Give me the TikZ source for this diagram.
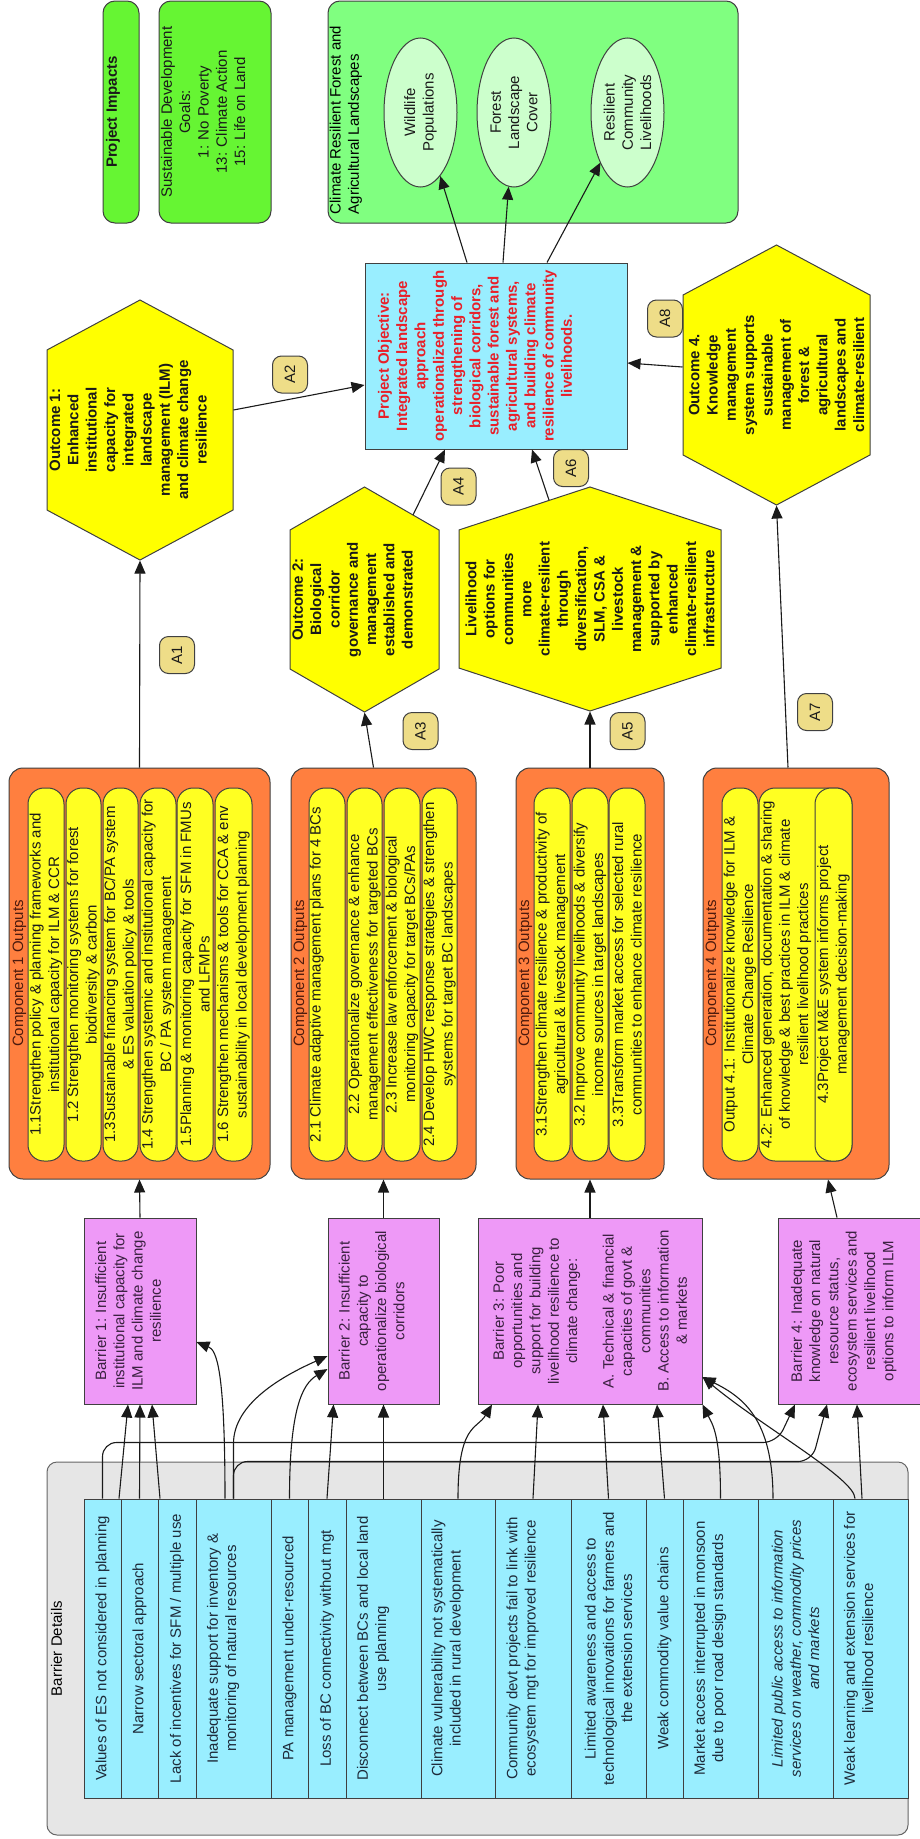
\documentclass[tikz,border=0pt]{standalone}
\usepackage{fontspec}
\setmainfont{Liberation Sans}
\usetikzlibrary{calc,shapes.geometric,shapes.symbols,arrows.meta}
\definecolor{impgreen}  {HTML}{66F533}
\definecolor{landgreen} {HTML}{80FF80}
\definecolor{ellgreen}  {HTML}{CCFFCC}
\definecolor{cyanfill}  {HTML}{99EEFF}
\definecolor{objred}    {HTML}{E8202A}
\definecolor{hexyellow} {HTML}{FFFF00}
\definecolor{comporange}{HTML}{FF7F3F}
\definecolor{itemyellow}{HTML}{FFFF22}
\definecolor{barpink}   {HTML}{EE99F7}
\definecolor{panelgrey} {HTML}{E6E6E6}
\definecolor{tagkhaki}  {HTML}{EEDD88}
\definecolor{ink}       {HTML}{1A1A1A}
\definecolor{rim}       {HTML}{404040}
\definecolor{barink}    {HTML}{3A2040}
\definecolor{detink}    {HTML}{1E2B3A}
\definecolor{compink}   {HTML}{4D1A0D}
\newcommand{\fsz}{\fontsize{15}{18.3}\selectfont}
\tikzset{
  >={Triangle[length=13pt,width=11pt]},
  every node/.style={font=\fsz},
  % --- nodes (all turned a quarter, text reads upwards)
  sz/.style 2 args={minimum height=#1, minimum width=#2},
  rbox/.style   = {rotate=90, draw=rim, line width=1pt, align=center, inner sep=0pt, text=ink},
  impact/.style = {rbox, fill=impgreen, rounded corners=12pt},
  land/.style   = {rbox, fill=landgreen, rounded corners=12pt},
  outc/.style   = {rbox, ellipse, fill=ellgreen},
  objbox/.style = {rbox, fill=cyanfill, text=objred, font=\fsz\bfseries},
  hexa/.style   = {rbox, shape=signal, signal to=east and west, fill=hexyellow, font=\fsz\bfseries},
  comp/.style   = {rbox, fill=comporange, rounded corners=14pt},
  item/.style   = {rbox, fill=itemyellow, rounded corners=16pt},
  barrier/.style= {rbox, fill=barpink, text=barink},
  panel/.style  = {rbox, fill=panelgrey, draw=rim!80, rounded corners=10pt},
  detail/.style = {rbox, fill=cyanfill, text=detink},
  tag/.style    = {rbox, fill=tagkhaki, rounded corners=9pt, minimum width=37, minimum height=35},
  ttl/.style    = {rotate=90, inner sep=0pt},
  % --- edges
  arr/.style    = {->, line width=1.1pt, draw=ink},
}
\begin{document}
\begin{tikzpicture}[x=1pt, y=1pt]
  \path[use as bounding box, fill=white] (0,0) rectangle (920,-1839);

  % impacts
  \node[impact, sz={36}{222}, font=\fsz\bfseries, text depth=19pt] (impact) at (121,-112) {Project Impacts};
  \node[impact, sz={112}{222}] (sdg) at (215,-112) {Sustainable Development\\Goals:\\1: No Poverty\\13: Climate Action\\15: Life on Land\\\strut};
  \node[land, sz={410}{222}] (land) at (533,-112) {};
  \node[ttl, anchor=north west, align=left, inner xsep=9pt, inner ysep=2pt] (landt) at (land.north west) {Climate Resilient Forest and\\Agricultural Landscapes};
  \node[outc, sz={73}{149}] (wild) at (420.5,-112.5) {Wildlife\\Populations};
  \node[outc, sz={74}{149}] (forest) at (514,-112.5) {Forest\\Landscape\\Cover};
  \node[outc, sz={73}{149}] (resil) at (627.5,-112.5) {Resilient\\Community\\Livelihoods};

  % objective
  \node[objbox, sz={262}{186}] (obj) at (496,-356) {Project Objective:\\Integrated landscape\\approach\\operationalized through\\strengthening of\\biological corridors,\\sustainable forest and\\agricultural systems,\\and building climate\\resilience of community\\livelihoods.\\\strut\\\strut};

  % outcomes
  \node[hexa, sz={186}{260}, signal pointer angle=123.5] (o1) at (140,-430) {Outcome 1:\\Enhanced\\institutional\\capacity for\\integrated\\landscape\\management (ILM)\\and climate change\\resilience\\\strut};
  \node[hexa, sz={149}{225}, signal pointer angle=120] (o2) at (364.5,-599.5) {Outcome 2:\\Biological\\corridor\\governance and\\management\\established and\\demonstrated\\\strut};
  \node[hexa, sz={262}{224}, signal pointer angle=143.7] (o3) at (590,-599) {Livelihood\\options for\\communities\\more\\climate-resilient\\through\\diversification,\\SLM, CSA \&\\livestock\\management \&\\supported by\\enhanced\\climate-resilient\\infrastructure};
  \node[hexa, sz={187}{260}, signal pointer angle=123.7] (o4) at (776.5,-375) {Outcome 4.\\Knowledge\\management\\system supports\\sustainable\\management of\\forest \&\\agricultural\\landscapes and\\climate-resilient};

  % components
  \node[comp, sz={261}{411}] (c1) at (139.5,-973.5) {};
  \node[ttl, text=compink] (c1t) at ($(c1.north)+(11,0)$) {Component 1 Outputs};
  \node[item, sz={36}{373}] (i11) at (46,-974.5) {1.1Strengthen policy \& planning frameworks and\\institutional capacity for ILM \& CCR};
  \node[item, sz={35}{373}] (i12) at (83.5,-974.5) {1.2 Strengthen monitoring systems for forest\\biodiversity \& carbon};
  \node[item, sz={35}{373}] (i13) at (120.5,-974.5) {1.3Sustainable financing system for BC/PA system\\\& ES valuation policy \& tools};
  \node[item, sz={36}{373}] (i14) at (158,-974.5) {1.4 Strengthen systemic and institutional capacity for\\BC / PA system management};
  \node[item, sz={36}{373}] (i15) at (195,-974.5) {1.5Planning \& monitoring capacity for SFM in FMUs\\and LFMPs};
  \node[item, sz={37}{373}] (i16) at (233.5,-974.5) {1.6 Strengthen mechanisms \& tools for CCA \& env\\sustainability in local development planning};

  \node[comp, sz={185}{411}] (c2) at (383.5,-973.5) {};
  \node[ttl, text=compink] (c2t) at ($(c2.north)+(10,0)$) {Component 2 Outputs};
  \node[item, sz={36}{373}] (i21) at (327,-974.5) {2.1 Climate adaptive management plans for 4 BCs\\\strut};
  \node[item, sz={35}{373}] (i22) at (364.5,-974.5) {2.2 Operationalize governance \& enhance\\management effectiveness for targeted BCs};
  \node[item, sz={36}{373}] (i23) at (402,-974.5) {2.3 Increase law enforcement \& biological\\monitoring capacity for target BCs/PAs};
  \node[item, sz={35}{373}] (i24) at (439.5,-974.5) {2.4 Develop HWC response strategies \& strengthen\\systems for target BC landscapes};

  \node[comp, sz={148}{411}] (c3) at (590,-973.5) {};
  \node[ttl, text=compink] (c3t) at ($(c3.north)+(10,0)$) {Component 3 Outputs};
  \node[item, sz={36}{373}] (i31) at (552,-974.5) {3.1Strengthen climate resilience \& productivity of\\agricultural \& livestock management};
  \node[item, sz={36}{373}] (i32) at (590,-974.5) {3.2 Improve community livelihoods \& diversify\\income sources in target landscapes};
  \node[item, sz={36}{373}] (i33) at (627,-974.5) {3.3Transform market access for selected rural\\communities to enhance climate resilience};

  \node[comp, sz={186}{411}] (c4) at (796,-973.5) {};
  \node[ttl, text=compink] (c4t) at ($(c4.north)+(10,0)$) {Component 4 Outputs};
  \node[item, sz={36}{373}] (i41) at (740,-974.5) {Output 4.1: Institutionalize knowledge for ILM \&\\Climate Change Resilience};
  \node[item, sz={93}{373}] (i42) at (805.5,-974.5) {4.2: Enhanced generation, documentation \& sharing\\of knowledge \& best practices in ILM \& climate\\resilient livelihood practices\\\strut\\\strut};
  \node[item, sz={37}{373}] (i43) at (833.5,-974.5) {4.3Project M\&E system informs project\\management decision-making};

  % barriers
  \node[barrier, sz={112}{186}] (b1) at (140,-1311) {Barrier 1: Insufficient\\institutional capacity for\\ILM and climate change\\resilience\\\strut};
  \node[barrier, sz={111}{186}] (b2) at (383.5,-1311) {Barrier 2: Insufficient\\capacity to\\operationalize biological\\corridors\\\strut};
  \node[barrier, sz={224}{186}] (b3) at (590,-1311) {Barrier 3: Poor\\opportunities and\\support for building\\livelihood resilience to\\climate change:\\\strut\\A. Technical \& financial\\capacities of govt \&\\communities\\B. Access to information\\\& markets};
  \node[barrier, sz={152}{186}] (b4) at (854,-1311) {Barrier 4: Inadequate\\knowledge on natural\\resource status,\\ecosystem services and\\resilient livelihood\\options to inform ILM\\\strut};

  % barrier details
  \node[panel, sz={861}{373}] (panel) at (477.5,-1648.5) {};
  \node[ttl] (panelt) at ($(panel.north)+(10,0)$) {Barrier Details};
  \node[detail, sz={37}{299}] (d1) at (102.5,-1648.5) {Values of ES not considered in planning};
  \node[detail, sz={37}{299}] (d2) at (139.5,-1648.5) {Narrow sectoral approach};
  \node[detail, sz={38}{299}] (d3) at (177,-1648.5) {Lack of incentives for SFM / multiple use};
  \node[detail, sz={75}{299}] (d4) at (233.5,-1648.5) {Inadequate support for inventory \&\\monitoring of natural resources\\\strut};
  \node[detail, sz={37}{299}] (d5) at (289.5,-1648.5) {PA management under-resourced};
  \node[detail, sz={38}{299}] (d6) at (327,-1648.5) {Loss of BC connectivity without mgt};
  \node[detail, sz={75}{299}] (d7) at (383.5,-1648.5) {Disconnect between BCs and local land\\use planning\\\strut};
  \node[detail, sz={74}{299}] (d8) at (458,-1648.5) {Climate vulnerability not systematically\\included in rural development\\\strut};
  \node[detail, sz={76}{299}] (d9) at (533,-1648.5) {Community devt projects fail to link with\\ecosystem mgt for improved resilience\\\strut};
  \node[detail, sz={75}{299}] (d10) at (608.5,-1648.5) {Limited awareness and access to\\technological innovations for farmers and\\the extension services};
  \node[detail, sz={37}{299}] (d11) at (664.5,-1648.5) {Weak commodity value chains};
  \node[detail, sz={75}{299}] (d12) at (720.5,-1648.5) {Market access interrupted in monsoon\\due to poor road design standards\\\strut};
  \node[detail, sz={75}{299}, font=\fsz\itshape] (d13) at (795.5,-1648.5) {Limited public access to information\\services on weather, commodity prices\\and markets};
  \node[detail, sz={75}{299}] (d14) at (870.5,-1648.5) {Weak learning and extension services for\\livelihood resilience\\\strut};

  % details to barriers
  \draw[arr] ($(d1.east)+(16.5,0)$) -- ($(b1.west)+(-12,0)$);
  \draw[arr] (d2.east) -- (b1.west);
  \draw[arr] ($(d3.east)+(-17,0)$) -- ($(b1.west)+(12,0)$);
  \draw[arr] ($(d4.east)+(-8.5,0)$) .. controls +(0,130) and +(20,-8) .. ($(b1.south)+(0,-31)$);
  \draw[arr] (d4.east) -- ++(0,55) .. controls +(0,40) and +(-45,-20) .. ($(b2.north)+(0,-45)$);
  \draw[arr, rounded corners=14pt] (d4.east) |- ($(b4.west)+(-42,-57)$) -- ($(b4.west)+(-27,0)$);
  \draw[arr, rounded corners=14pt] (d1.east) |- ($(b4.west)+(-77,-38)$) -- ($(b4.west)+(-59,0)$);
  \draw[arr] (d5.east) .. controls +(0,90) and +(-25,-15) .. ($(b2.north)+(0,-58)$);
  \draw[arr] (d6.east) -- ($(b2.west)+(-50,0)$);
  \draw[arr] (d7.east) -- (b2.west);
  \draw[arr] (d8.east) .. controls +(0,75) and +(-15,-25) .. ($(b3.west)+(-98,0)$);
  \draw[arr] (d9.east) -- ($(b3.west)+(-52,0)$);
  \draw[arr] (d10.east) -- ($(b3.west)+(13,0)$);
  \draw[arr] (d11.east) -- ($(b3.west)+(67,0)$);
  \draw[arr] (d12.east) .. controls +(0,65) and +(10,-20) .. (b3.south west);
  \draw[arr] ($(d13.east)+(-22.5,0)$) .. controls +(0,80) and +(40,-20) .. ($(b3.south)+(0,-66)$);
  \draw[arr] ($(d14.east)+(-15.5,0)$) .. controls +(0,20) and +(60,-50) .. ($(b3.south)+(0,-66)$);
  \draw[arr] ($(d14.east)+(-8.5,0)$) -- ($(b4.west)+(3,0)$);

  % barriers to components
  \draw[arr] (b1.east) -- (c1.west);
  \draw[arr] (b2.east) -- (c2.west);
  \draw[arr] (b3.east) -- (c3.west);
  \draw[arr] ($(b4.east)+(-17,0)$) -- ($(c4.west)+(32,0)$);

  % components to outcomes
  \draw[arr] (c1.east) -- (o1.west);
  \draw[arr] ($(c2.east)+(-10,0)$) -- (o2.west);
  \draw[arr] (c3.east) -- (o3.west);
  \draw[arr] ($(c4.east)+(-8,0)$) -- (o4.west);

  % outcomes to objective, objective to impacts
  \draw[arr] ($(o1.south)+(0,20)$) -- ($(obj.north)+(0,-29)$);
  \draw[arr] ($(o2)+(48.5,84.5)$) -- ($(obj.west)+(-51,0)$);
  \draw[arr] ($(o3)+(-41,99)$) -- ($(obj.west)+(36,0)$);
  \draw[arr] ($(o4.north)+(0,8)$) -- ($(obj.south)+(0,-7)$);
  \draw[arr] ($(obj.east)+(-29,0)$) -- (wild);
  \draw[arr] ($(obj.east)+(7,0)$) -- (forest);
  \draw[arr] ($(obj.east)+(51,0)$) -- ($(resil)+(-27,-50)$);

  % assumptions
  \node[tag] (a1) at (177,-655) {A1};
  \node[tag] (a2) at (290,-374.5) {A2};
  \node[tag] (a3) at (420.5,-731) {A3};
  \node[tag] (a4) at (458.5,-486.5) {A4};
  \node[tag] (a5) at (627.5,-731) {A5};
  \node[tag] (a6) at (571,-468) {A6};
  \node[tag] (a7) at (815,-712) {A7};
  \node[tag] (a8) at (665,-318.5) {A8};
\end{tikzpicture}
\end{document}
